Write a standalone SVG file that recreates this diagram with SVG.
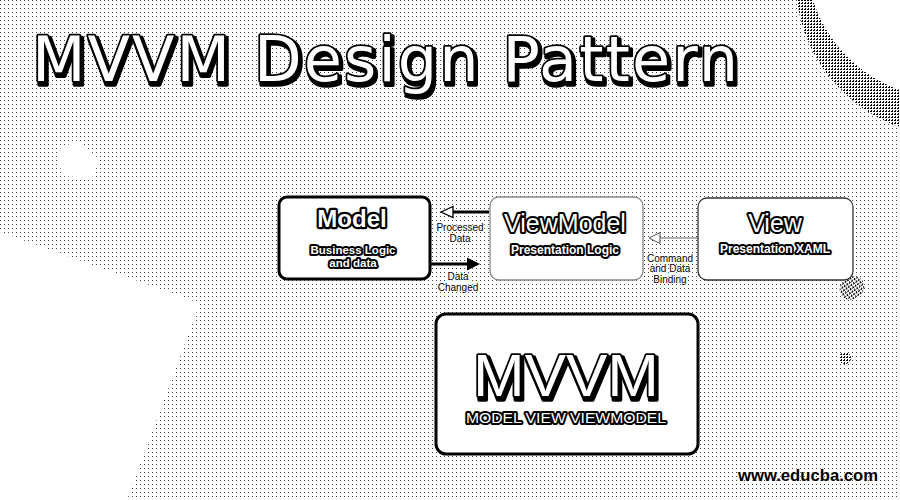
<svg xmlns="http://www.w3.org/2000/svg" width="900" height="500" viewBox="0 0 900 500">
  <defs>
    <pattern id="dots" width="4" height="4" patternUnits="userSpaceOnUse">
      <rect x="0" y="0" width="1" height="1" fill="#444"/>
    </pattern>
    <pattern id="dense" width="3" height="3" patternUnits="userSpaceOnUse">
      <rect width="3" height="3" fill="#fff"/>
      <rect x="0" y="0" width="2" height="1" fill="#000"/>
      <rect x="1" y="2" width="1" height="1" fill="#000"/>
    </pattern>
    <filter id="shadow" x="-5%" y="-20%" width="115%" height="150%">
      <feOffset in="SourceAlpha" dx="2" dy="3" result="off"/>
      <feMorphology in="off" operator="dilate" radius="1" result="thick"/>
      <feFlood flood-color="#000"/>
      <feComposite in2="thick" operator="in" result="sh"/>
      <feMerge>
        <feMergeNode in="sh"/>
        <feMergeNode in="SourceGraphic"/>
      </feMerge>
    </filter>
    <style>
      .out { fill: #fff; stroke: #000; paint-order: stroke; stroke-linejoin: round; text-anchor: middle; }
      .lbl { font-family: "Liberation Sans", Arial, sans-serif; font-size: 10px; fill: #000; stroke: #fff; stroke-width: 2; paint-order: stroke; text-anchor: middle; }
      .sans { font-family: "Liberation Sans", Arial, sans-serif; }
      .box { fill: #fff; }
    </style>
  </defs>

  <!-- background -->
  <rect width="900" height="500" fill="#fff"/>
  <rect width="900" height="500" fill="url(#dots)"/>
  <polygon points="0,232 200,303 127,500 0,500" fill="#fff"/>
  <polygon points="57,150 78,140 100,160 92,178 62,176" fill="#fff"/>
  <circle cx="950" cy="-20" r="138" fill="#fff"/>
  <path d="M797,0 A155,155 0 0 0 900,127 L900,90 A140,140 0 0 1 813,0 Z" fill="url(#dense)"/>
  <ellipse cx="852" cy="288" rx="13" ry="11" transform="rotate(-35 852 288)" fill="url(#dense)"/>
  <circle cx="845" cy="358" r="6" fill="url(#dense)"/>

  <!-- title -->
  <g id="title" font-family="DejaVu Sans, sans-serif" font-size="62" filter="url(#shadow)">
    <text x="32" y="81" class="out" style="text-anchor:start" stroke-width="3.5" textLength="706" lengthAdjust="spacing">MVVM Design Pattern</text>
  </g>

  <!-- connectors -->
  <g id="connectors">
    <line x1="489" y1="212" x2="453" y2="212" stroke="#000" stroke-width="3"/>
    <polygon points="441,212 453,206.5 453,217.5" fill="#fff" stroke="#000" stroke-width="1.3"/>
    <line x1="431" y1="264" x2="468" y2="264" stroke="#000" stroke-width="3"/>
    <polygon points="480,264 467,257.5 467,270.5" fill="#000"/>
    <line x1="698" y1="238" x2="660" y2="238" stroke="#666" stroke-width="1.2"/>
    <polygon points="649,238 660,232.5 660,243.5" fill="#fff" stroke="#555" stroke-width="1"/>
    <text class="lbl" x="460" y="231">Processed</text>
    <text class="lbl" x="460" y="242">Data</text>
    <text class="lbl" x="458" y="280">Data</text>
    <text class="lbl" x="458" y="291">Changed</text>
    <text class="lbl" x="670" y="262">Command</text>
    <text class="lbl" x="670" y="272">and Data</text>
    <text class="lbl" x="670" y="283">Binding</text>
  </g>

  <!-- Model -->
  <g id="model" class="sans">
    <rect class="box" x="279" y="197" width="151" height="82" rx="8" stroke="#000" stroke-width="3"/>
    <text class="out" x="352" y="227" font-size="24" font-weight="bold" stroke-width="4.5">Model</text>
    <text class="out" x="353" y="253.5" font-size="11.5" font-weight="bold" stroke-width="4">Business Logic</text>
    <text class="out" x="353" y="267" font-size="11.5" font-weight="bold" stroke-width="4">and data</text>
  </g>

  <!-- ViewModel -->
  <g id="viewmodel" class="sans">
    <rect class="box" x="490" y="197" width="153" height="83" rx="9" stroke="#888" stroke-width="1.3"/>
    <text class="out" x="565" y="232" font-size="25" stroke-width="4">ViewModel</text>
    <text class="out" x="565" y="254" font-size="12" font-weight="bold" stroke-width="4">Presentation Logic</text>
  </g>

  <!-- View -->
  <g id="view" class="sans">
    <rect class="box" x="698" y="198" width="155" height="82" rx="9" stroke="#333" stroke-width="1.3"/>
    <text class="out" x="775" y="232" font-size="25" stroke-width="4">View</text>
    <text class="out" x="775" y="253" font-size="12" font-weight="bold" stroke-width="4">Presentation XAML</text>
  </g>

  <!-- MVVM -->
  <g id="mvvm" class="sans">
    <rect class="box" x="436" y="314" width="262" height="140" rx="10" stroke="#000" stroke-width="3"/>
    <g filter="url(#shadow)">
      <text class="out" x="566" y="396" font-size="60" stroke-width="3.5" textLength="186" lengthAdjust="spacingAndGlyphs">MVVM</text>
    </g>
    <text class="out" x="566" y="423" font-size="15" stroke-width="4" textLength="200" lengthAdjust="spacingAndGlyphs">MODEL VIEW VIEWMODEL</text>
  </g>

  <!-- watermark -->
  <g id="watermark">
    <text x="808" y="481" font-family="Liberation Sans, Arial, sans-serif" font-size="16" font-weight="bold" fill="#000" stroke="#fff" stroke-width="1" paint-order="stroke" text-anchor="middle" textLength="140" lengthAdjust="spacingAndGlyphs">www.educba.com</text>
  </g>
</svg>
